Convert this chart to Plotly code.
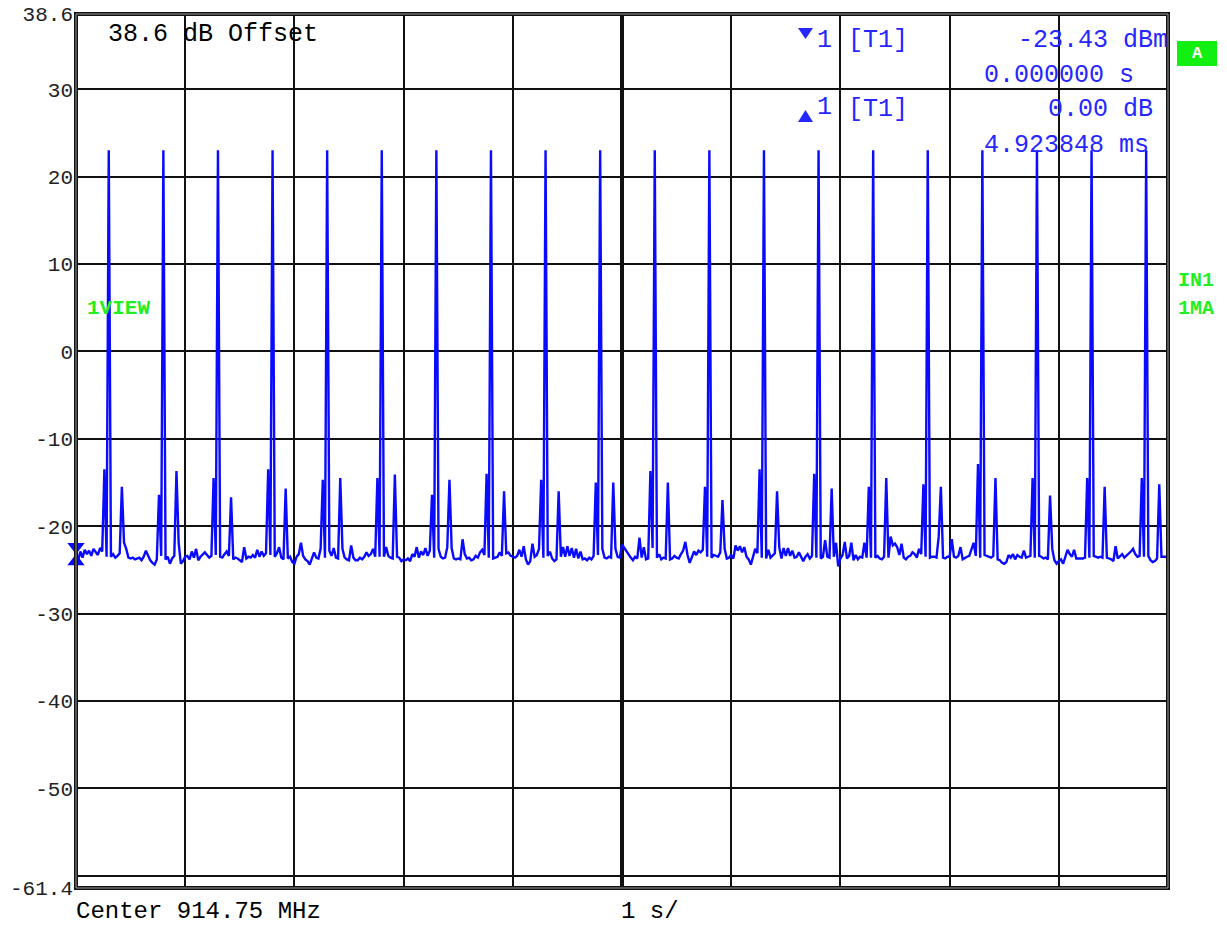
import plotly.graph_objects as go

# ---------------- data ----------------
sweep_time_s = 10.0

# trace noise floor (dBm), 501 sweep points (0.02 s per point)
noise_floor_dbm = [
    -23.4, -23.9, -22.9, -23.6, -22.7, -23.2, -22.8, -23.4, -22.6, -23.0, -23.3, -22.5, -22.9, -23.0, -23.5, -23.6, -23.5, -23.2, -23.6, -23.4, -23.1, -23.3, -21.9, -22.6, -23.6,
    -23.7, -23.6, -23.8, -23.7, -23.6, -23.9, -23.5, -22.8, -23.4, -23.9, -24.2, -24.4, -23.8, -23.0, -23.4, -23.6, -23.8, -23.5, -24.3, -23.7, -23.4, -23.9, -21.9, -24.3, -24.0,
    -23.5, -23.4, -23.8, -22.9, -23.6, -22.6, -23.9, -23.5, -23.2, -23.0, -23.3, -23.6, -23.4, -23.0, -23.3, -23.6, -23.5, -23.6, -23.2, -22.9, -23.4, -23.2, -23.8, -23.6, -23.7,
    -23.9, -24.1, -22.4, -23.7, -23.5, -23.6, -23.3, -23.6, -22.7, -23.5, -22.9, -23.4, -23.1, -22.8, -23.3, -23.5, -23.5, -23.1, -22.4, -23.6, -23.8, -23.4, -23.7, -23.5, -24.1,
    -24.3, -23.5, -23.2, -21.9, -23.4, -23.8, -24.0, -24.4, -23.6, -23.0, -23.6, -23.7, -22.6, -23.4, -23.6, -23.7, -22.8, -23.4, -22.5, -23.6, -23.7, -23.5, -22.6, -23.6, -23.8,
    -23.9, -22.2, -23.6, -23.9, -23.9, -23.6, -23.8, -23.5, -23.0, -23.4, -23.2, -22.6, -23.5, -23.0, -23.5, -23.6, -23.5, -22.4, -23.4, -23.6, -23.7, -22.8, -23.5, -23.6, -24.0,
    -23.8, -23.9, -23.7, -24.0, -23.2, -23.5, -22.4, -23.6, -22.9, -23.3, -22.5, -23.4, -22.8, -23.0, -23.6, -23.5, -22.6, -23.5, -23.7, -23.6, -22.4, -23.4, -22.5, -23.7, -23.8,
    -23.7, -23.8, -21.5, -23.2, -23.7, -23.6, -23.9, -23.8, -23.4, -23.6, -23.0, -22.7, -23.3, -22.8, -23.6, -23.5, -23.7, -23.6, -23.5, -23.0, -23.4, -23.6, -23.1, -23.0, -23.4,
    -23.5, -23.6, -23.4, -22.7, -23.5, -22.3, -23.8, -24.4, -24.0, -22.0, -23.5, -23.3, -22.6, -23.0, -23.6, -23.6, -23.4, -22.9, -23.7, -24.0, -23.8, -23.1, -23.5, -22.4, -23.5,
    -22.3, -23.4, -22.5, -23.6, -22.6, -23.7, -22.9, -23.8, -23.7, -23.9, -23.6, -23.8, -23.4, -22.9, -23.3, -23.5, -22.6, -23.6, -23.7, -23.5, -23.6, -23.4, -22.6, -23.5, -23.6,
    -22.1, -22.5, -22.9, -23.3, -23.6, -23.9, -23.5, -23.7, -21.3, -23.6, -22.4, -23.8, -23.7, -23.5, -22.5, -23.5, -23.6, -23.2, -23.8, -23.6, -23.7, -23.4, -23.8, -23.7, -23.4,
    -23.6, -23.7, -23.2, -22.8, -21.8, -23.3, -24.2, -23.6, -22.9, -23.3, -22.8, -23.0, -22.7, -23.1, -23.5, -23.5, -23.6, -23.3, -23.4, -23.5, -23.0, -23.6, -22.6, -23.7, -23.6,
    -23.3, -23.7, -22.2, -22.8, -22.3, -23.0, -22.4, -23.5, -23.8, -24.4, -23.4, -22.6, -23.1, -23.0, -23.6, -23.6, -23.7, -22.7, -23.6, -23.3, -23.1, -23.5, -22.4, -23.7, -22.5,
    -23.4, -22.5, -23.4, -22.8, -23.6, -23.5, -23.0, -23.6, -24.0, -23.5, -23.2, -23.7, -23.4, -23.1, -23.6, -23.5, -23.7, -23.5, -21.6, -23.5, -23.6, -23.7, -23.5, -21.9, -24.6,
    -23.7, -23.3, -21.8, -23.7, -23.4, -21.9, -23.9, -23.3, -23.8, -23.5, -23.6, -21.9, -23.6, -23.2, -23.6, -23.5, -23.6, -23.4, -23.7, -23.8, -23.5, -23.5, -23.6, -21.2, -22.2,
    -22.0, -22.4, -23.3, -22.0, -23.6, -23.8, -23.5, -23.4, -23.0, -23.2, -23.6, -22.6, -23.2, -23.4, -23.5, -23.6, -23.6, -23.5, -23.5, -23.6, -21.2, -23.5, -23.6, -23.7, -23.5,
    -23.5, -21.5, -23.5, -23.6, -23.4, -22.4, -23.8, -23.6, -23.5, -23.4, -22.6, -21.9, -23.4, -23.5, -23.6, -23.5, -23.3, -23.4, -23.5, -23.6, -23.4, -23.5, -23.8, -23.9, -24.2,
    -24.3, -24.1, -23.3, -23.6, -23.2, -23.8, -23.3, -23.5, -23.6, -22.8, -23.6, -23.5, -23.4, -23.5, -23.6, -23.5, -23.4, -23.5, -23.7, -23.6, -23.8, -23.5, -22.6, -23.9, -24.3,
    -24.0, -23.8, -24.3, -23.4, -22.7, -23.2, -23.5, -22.7, -23.7, -23.7, -23.7, -23.7, -23.6, -23.5, -23.6, -23.5, -23.4, -23.5, -23.6, -23.5, -23.6, -23.5, -23.6, -23.7, -23.8,
    -24.0, -22.3, -23.7, -23.4, -23.2, -23.6, -23.4, -23.2, -22.9, -22.6, -23.2, -23.5, -23.4, -23.2, -23.5, -23.5, -23.4, -23.9, -24.1, -24.0, -23.7, -23.5, -23.5, -23.5, -23.5,
    -23.5,
]

# main bursts
burst_index = [15, 40, 65, 90, 115, 140, 165, 190, 215, 240,
               265, 290, 315, 340, 365, 390, 415, 440, 465, 490]
burst_peak_dbm = [23.0, 23.0, 23.0, 23.0, 23.0, 23.0, 23.0, 23.0, 23.0, 23.0,
                  23.0, 23.0, 23.0, 23.0, 23.0, 23.0, 23.0, 23.0, 23.0, 23.0]

# side spur before each burst
pre_index = [13, 38, 63, 88, 113, 138, 163, 188, 213, 238,
             263, 288, 313, 338, 363, 388, 413, 438, 463, 488]
pre_peak_dbm = [-13.5, -16.4, -14.5, -13.5, -14.7, -14.5, -16.4, -14.0, -14.7, -15.0,
                -13.7, -15.5, -13.5, -14.0, -15.5, -15.2, -12.9, -14.5, -14.5, -14.5]

# side spur after each burst
post_index = [21, 46, 71, 96, 121, 146, 171, 196, 221, 246,
              271, 296, 321, 346, 371, 396, 421, 446, 471, 496]
post_peak_dbm = [-15.5, -13.7, -16.7, -15.7, -14.5, -14.1, -14.7, -16.0, -16.0, -15.0,
                 -15.0, -17.0, -16.0, -15.7, -14.5, -15.5, -14.5, -16.5, -15.5, -15.2]

marker_time_s = [0.0]
marker_level_dbm = [-23.43]

y_range = [-61.4, 38.6]
y_tickvals = [38.6, 30, 20, 10, 0, -10, -20, -30, -40, -50, -60, -61.4]
y_ticktext = ["38.6", "30", "20", "10", "0", "-10", "-20", "-30", "-40", "-50", "", "-61.4"]
x_tickvals = [0, 1, 2, 3, 4, 5, 6, 7, 8, 9, 10]

# ---------------- build trace ----------------
level_dbm = list(noise_floor_dbm)
for idx_list, val_list in ((pre_index, pre_peak_dbm), (post_index, post_peak_dbm),
                           (burst_index, burst_peak_dbm)):
    for i, v in zip(idx_list, val_list):
        if i < len(level_dbm):
            level_dbm[i] = v
n = len(level_dbm)
time_s = [i * sweep_time_s / (n - 1) for i in range(n)]

W, H = 1227, 926
L, R, T, B = 76, 59, 14, 38
PW, PH = W - L - R, H - T - B
px_per_db = PH / (y_range[1] - y_range[0])


def px(xp):
    return (xp - L) / PW


def py(yp):
    return (H - B - yp) / PH


MONO = "Liberation Mono, Courier New, monospace"
BLUE_TXT = "#2626ff"
TRACE = "#0a0aff"
GREEN = "#22ee22"

fig = go.Figure()
fig.add_trace(go.Scatter(
    x=time_s, y=level_dbm, mode="lines",
    line=dict(color=TRACE, width=2.4),
    hoverinfo="skip", showlegend=False,
))

# marker symbols (down triangle above the point, up triangle below it)
fig.add_trace(go.Scatter(
    x=marker_time_s, y=[v + 9.4 / px_per_db for v in marker_level_dbm],
    mode="markers", marker=dict(symbol="triangle-down", size=15, color=TRACE, line=dict(width=0)),
    cliponaxis=False, showlegend=False, hoverinfo="skip",
))
fig.add_trace(go.Scatter(
    x=marker_time_s, y=[v - 5.3 / px_per_db for v in marker_level_dbm],
    mode="markers", marker=dict(symbol="triangle-up", size=15, color=TRACE, line=dict(width=0)),
    cliponaxis=False, showlegend=False, hoverinfo="skip",
))

shapes = []
# center vertical double line
shapes.append(dict(type="line", xref="x", yref="paper", x0=5, x1=5, y0=0, y1=1,
                   line=dict(color="#111111", width=4), layer="below"))
shapes.append(dict(type="line", xref="x", yref="paper", x0=5, x1=5, y0=0, y1=1,
                   line=dict(color="#9a9a9a", width=1), layer="below"))
# frame double line
shapes.append(dict(type="rect", xref="paper", yref="paper", x0=0, x1=1, y0=0, y1=1,
                   line=dict(color="#111111", width=4), layer="above"))
shapes.append(dict(type="rect", xref="paper", yref="paper", x0=0, x1=1, y0=0, y1=1,
                   line=dict(color="#9a9a9a", width=1), layer="above"))
# green "A" box
shapes.append(dict(type="rect", xref="paper", yref="paper",
                   x0=px(1177), x1=px(1217), y0=py(66), y1=py(41),
                   line=dict(width=0), fillcolor="#11f011", layer="above"))


def tri(xl, xr, ybase, yapex):
    xm = (xl + xr) / 2
    return (f"M {px(xl)} {py(ybase)} L {px(xr)} {py(ybase)} "
            f"L {px(xm)} {py(yapex)} Z")


# header marker glyphs
shapes.append(dict(type="path", xref="paper", yref="paper", path=tri(798, 813, 28, 39),
                   fillcolor=BLUE_TXT, line=dict(width=0), layer="above"))
shapes.append(dict(type="path", xref="paper", yref="paper", path=tri(798, 813, 122, 110),
                   fillcolor=BLUE_TXT, line=dict(width=0), layer="above"))

ann = []


def txt(text, x, y, size=25, color="black", anchor="left", bold=False, yanchor="middle"):
    if bold:
        text = "<b>" + text + "</b>"
    ann.append(dict(text=text, x=px(x), y=py(y), xref="paper", yref="paper",
                    xanchor=anchor, yanchor=yanchor, showarrow=False, borderpad=0,
                    font=dict(family=MONO, size=size, color=color)))


txt("38.6 dB Offset", 107, 34)
txt("1", 816, 40, color=BLUE_TXT)
txt("[T1]", 847, 40, color=BLUE_TXT)
txt("-23.43 dBm", 1169, 40, color=BLUE_TXT, anchor="right")
txt("0.000000 s", 983, 75, color=BLUE_TXT)
txt("1", 816, 108, color=BLUE_TXT)
txt("[T1]", 847, 109, color=BLUE_TXT)
txt("0.00 dB", 1154, 109, color=BLUE_TXT, anchor="right")
txt("4.923848 ms", 983, 145, color=BLUE_TXT)
txt("1VIEW", 86, 308, size=21, color=GREEN, bold=True)
txt("IN1", 1177, 280, size=20, color=GREEN, bold=True)
txt("1MA", 1177, 308, size=20, color=GREEN, bold=True)
txt("A", 1197, 53, size=17, color="white", anchor="center", bold=True)
txt("Center 914.75 MHz", 75, 926, size=24, yanchor="bottom")
txt("1 s/", 620, 926, size=24, yanchor="bottom")

fig.update_layout(
    width=W, height=H,
    margin=dict(l=L, r=R, t=T, b=B, pad=0, autoexpand=False),
    paper_bgcolor="white", plot_bgcolor="white",
    showlegend=False,
    shapes=shapes, annotations=ann,
    xaxis=dict(range=[0, sweep_time_s], tickvals=x_tickvals, showticklabels=False,
               showgrid=True, gridcolor="#111111", gridwidth=1.5, zeroline=False,
               showline=False, ticks="", fixedrange=True, automargin=False),
    yaxis=dict(range=y_range, tickvals=y_tickvals, ticktext=y_ticktext,
               showgrid=True, gridcolor="#111111", gridwidth=1.5, zeroline=False,
               showline=False, ticks="", ticklabelstandoff=2, automargin=False,
               tickfont=dict(family=MONO, size=21, color="#222222"), fixedrange=True),
)

fig.write_html("out.html")
